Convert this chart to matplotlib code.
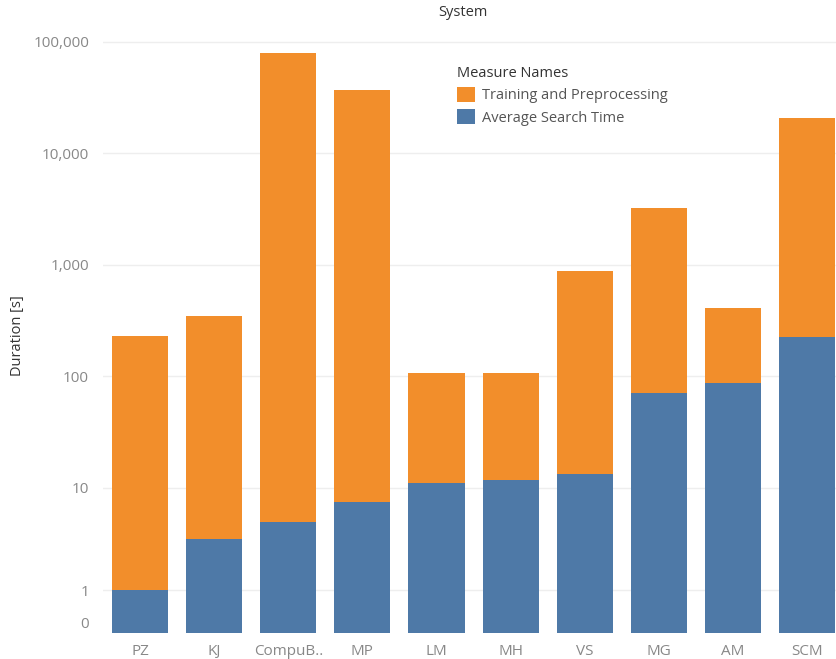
import numpy as np
import matplotlib.pyplot as plt
import matplotlib.transforms as mtransforms
from matplotlib.ticker import FixedLocator, FixedFormatter

# dane (skala asinh, jak "symmetric log" w Tableau)
systems  = ["PZ", "KJ", "CompuB..", "MP", "LM", "MH", "VS", "MG", "AM", "SCM"]
search   = [1.0, 3.4, 4.9, 7.4, 11.0, 11.7, 13.2, 70.6, 86.8, 224]
total    = [229, 346, 79000, 36800, 106, 106, 877, 3224, 408, 20670]
training = [t - s for t, s in zip(total, search)]

yticks  = [0, 1, 10, 100, 1000, 10000, 100000]
ylabels = ["0", "1", "10", "100", "1,000", "10,000", "100,000"]

c_orange = "#F28E2B"
c_blue   = "#4E79A7"
plt.rcParams['font.family'] = ['Open Sans', 'DejaVu Sans']

W, H = 836, 659
fig = plt.figure(figsize=(W/100, H/100), dpi=100)
ax = fig.add_axes([103/W, 1-632.7/H, 1-103/W, (632.7-25)/H])

x = np.arange(len(systems))
ax.bar(x, search, width=0.757, color=c_blue, zorder=2, label="Average Search Time")
ax.bar(x, training, bottom=search, width=0.757, color=c_orange, zorder=2,
       label="Training and Preprocessing")

ax.set_yscale('asinh', linear_width=1)
ax.set_ylim(0, 1.41e5)
ax.set_xlim(-0.5, 9.39)
ax.yaxis.set_major_locator(FixedLocator(yticks))
ax.yaxis.set_major_formatter(FixedFormatter(ylabels))
ax.yaxis.set_minor_locator(FixedLocator([]))
ax.set_xticks(x, systems)
ax.tick_params(length=0, labelsize=11, colors="#888888")
ax.tick_params(axis='y', pad=10)
ax.tick_params(axis='x', pad=8)
for sp in ax.spines.values():
    sp.set_visible(False)
for v in yticks[1:]:
    ax.axhline(v, color="#EEEEEE", lw=1, zorder=0)

# etykieta "0" lekko podniesiona, jak w oryginale
lab0 = ax.get_yticklabels()[0]
lab0.set_transform(lab0.get_transform() + mtransforms.ScaledTranslation(0, 10/100, fig.dpi_scale_trans))

fig.text(18/W, 1-336/H, "Duration [s]", rotation=90, ha='center', va='center',
         fontsize=10.5, color="#333333")
fig.text(463/W, 1-13/H, "System", ha='center', va='center', fontsize=10.5, color="#333333")

h, l = ax.get_legend_handles_labels()
leg = ax.legend(h[::-1], l[::-1], title="Measure Names", loc='upper left',
                bbox_to_anchor=(444/W, 1-53/H), bbox_transform=fig.transFigure,
                frameon=False, fontsize=10.5, handlelength=1.2, handleheight=1.2,
                handletextpad=0.5, labelspacing=0.4, labelcolor="#555555")
leg.get_title().set_fontsize(10.5)
leg.get_title().set_color("#333333")
leg._legend_box.align = "left"

fig.savefig("out.png", dpi=100)
